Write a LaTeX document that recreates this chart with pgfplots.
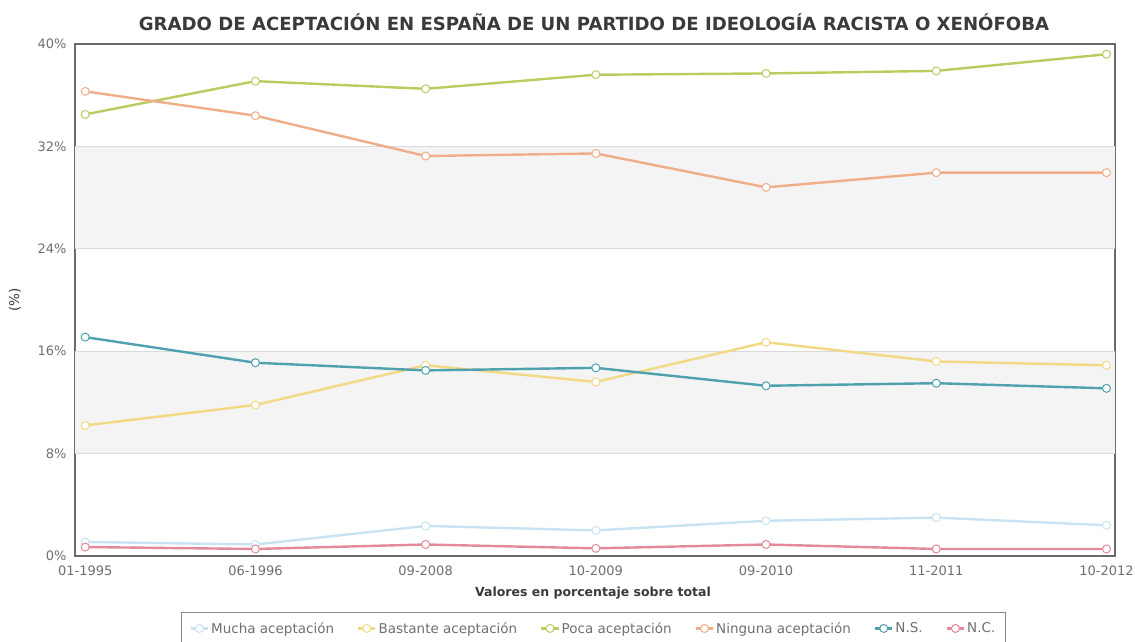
\documentclass[border=0pt]{standalone}
\usepackage{fontspec}
\setmainfont{DejaVu Sans}
\usepackage{pgfplots}
\pgfplotsset{compat=1.18}
\definecolor{cMucha}{HTML}{C9E3F2}
\definecolor{cBast}{HTML}{F2D983}
\definecolor{cPoca}{HTML}{BCCB5E}
\definecolor{cNing}{HTML}{F0AE88}
\definecolor{cNS}{HTML}{4FA2AD}
\definecolor{cNC}{HTML}{E2899A}
\definecolor{band}{HTML}{F4F4F4}
\definecolor{gridc}{HTML}{D9D9D9}
\definecolor{framec}{HTML}{6A6A6A}
\definecolor{titlec}{HTML}{3A3A3A}
\definecolor{tickc}{HTML}{707070}
\begin{document}
\begin{tikzpicture}
\useasboundingbox (0pt,0pt) rectangle (1135pt,-641pt);
\fill[white] (0pt,0pt) rectangle (1135pt,-641pt);
\begin{axis}[
  at={(75pt,-556pt)}, anchor=south west,
  scale only axis, width=1040pt, height=512pt,
  xmin=-0.06, xmax=6.05, ymin=0, ymax=40,
  xtick={0,1,2,3,4,5,6},
  xticklabels={01-1995,06-1996,09-2008,10-2009,09-2010,11-2011,10-2012},
  ytick={0,8,16,24,32,40},
  yticklabel={\pgfmathprintnumber{\tick}\%},
  /pgf/number format/assume math mode=true,
  major tick length=0pt,
  tick label style={font=\fontsize{13}{15}\selectfont, text=tickc},
  xticklabel style={yshift=-6pt},
  yticklabel style={xshift=-5pt},
  axis line style={draw=framec, line width=1.5pt},
  legend columns=6,
  legend style={at={(0.4986,-0.109)}, anchor=north, draw=framec!80, line width=1pt,
    font=\fontsize{13.5}{16}\selectfont, text=tickc, inner xsep=8pt, inner ysep=8pt,
    /tikz/every even column/.append style={column sep=21pt}},
  every axis plot/.append style={line width=2.4pt, mark=*, mark size=4pt, mark options={fill=white, line width=1pt}},
]
\fill[band] (axis cs:-0.06,8) rectangle (axis cs:6.05,16);
\fill[band] (axis cs:-0.06,24) rectangle (axis cs:6.05,32);
\draw[gridc, line width=1pt] (axis cs:-0.06,8) -- (axis cs:6.05,8);
\draw[gridc, line width=1pt] (axis cs:-0.06,16) -- (axis cs:6.05,16);
\draw[gridc, line width=1pt] (axis cs:-0.06,24) -- (axis cs:6.05,24);
\draw[gridc, line width=1pt] (axis cs:-0.06,32) -- (axis cs:6.05,32);
\addplot[color=cMucha] coordinates {(0,1.1) (1,0.9) (2,2.35) (3,2.0) (4,2.75) (5,3.0) (6,2.4)};
\addlegendentry{Mucha aceptación}
\addplot[color=cBast] coordinates {(0,10.2) (1,11.8) (2,14.9) (3,13.6) (4,16.7) (5,15.2) (6,14.9)};
\addlegendentry{Bastante aceptación}
\addplot[color=cPoca] coordinates {(0,34.5) (1,37.1) (2,36.5) (3,37.6) (4,37.7) (5,37.9) (6,39.2)};
\addlegendentry{Poca aceptación}
\addplot[color=cNing] coordinates {(0,36.3) (1,34.4) (2,31.25) (3,31.45) (4,28.8) (5,29.95) (6,29.95)};
\addlegendentry{Ninguna aceptación}
\addplot[color=cNS] coordinates {(0,17.1) (1,15.1) (2,14.5) (3,14.7) (4,13.3) (5,13.5) (6,13.1)};
\addlegendentry{N.S.}
\addplot[color=cNC] coordinates {(0,0.7) (1,0.55) (2,0.9) (3,0.6) (4,0.9) (5,0.55) (6,0.55)};
\addlegendentry{N.C.}
\draw[framec, line width=3pt] (rel axis cs:0,0) -- (rel axis cs:1,0);
\draw[framec, line width=2.5pt] (rel axis cs:0,1) -- (rel axis cs:1,1);
\end{axis}
\node[font=\fontsize{18.1}{21}\selectfont\bfseries, text=titlec] at (594pt,-22pt)
  {GRADO DE ACEPTACIÓN EN ESPAÑA DE UN PARTIDO DE IDEOLOGÍA RACISTA O XENÓFOBA};
\node[font=\fontsize{12.5}{15}\selectfont\bfseries, text=titlec] at (593pt,-593pt)
  {Valores en porcentaje sobre total};
\node[rotate=90, font=\fontsize{13.5}{16}\selectfont, text=titlec] at (15pt,-300pt) {(\%)};
\end{tikzpicture}
\end{document}
